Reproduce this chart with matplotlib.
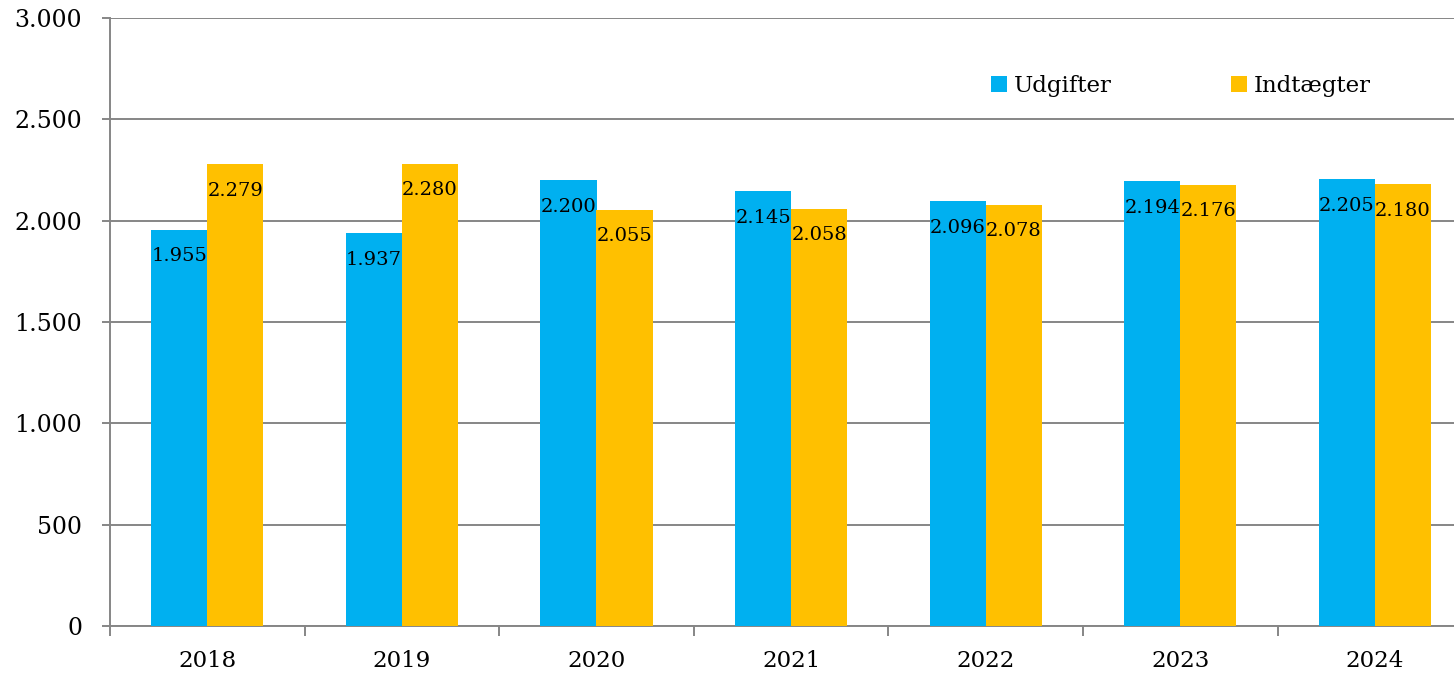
import matplotlib.pyplot as plt
import numpy as np
from matplotlib.ticker import FuncFormatter

years = ['2018', '2019', '2020', '2021', '2022', '2023', '2024']
udgifter = [1955, 1937, 2200, 2145, 2096, 2194, 2205]
indtaegter = [2279, 2280, 2055, 2058, 2078, 2176, 2180]
series_names = ['Udgifter', 'Indtægter']


def dk(v):
    return '{:,.0f}'.format(v).replace(',', '.')


plt.rcParams['font.family'] = ['DejaVu Serif']

fig = plt.figure(figsize=(14.54, 6.74), dpi=100)
ax = fig.add_axes([110 / 1454, 48 / 674, 1 - 110 / 1454, 608 / 674])

x = np.arange(len(years))
w = 0.288
gray = '#868686'

b1 = ax.bar(x - w / 2, udgifter, w, color='#00B0F0', label=series_names[0], zorder=3)
b2 = ax.bar(x + w / 2, indtaegter, w, color='#FFC000', label=series_names[1], zorder=3)

for bars, vals in ((b1, udgifter), (b2, indtaegter)):
    for rect, v in zip(bars, vals):
        ax.annotate(dk(v), (rect.get_x() + rect.get_width() / 2, v),
                    xytext=(0, -19), textcoords='offset points',
                    ha='center', va='center', fontsize=14, zorder=4)

ax.set_yticks(range(0, 3001, 500))
ax.yaxis.set_major_formatter(FuncFormatter(lambda v, p: dk(v)))
ax.grid(axis='y', color=gray, linewidth=1.4, zorder=0)

ax.set_xticks(x)
ax.set_xticklabels(years, fontsize=16.5)
ax.set_xticks(np.arange(-0.5, len(years), 1), minor=True)
ax.tick_params(axis='x', which='major', length=0, pad=17)
ax.tick_params(axis='x', which='minor', length=7, width=1.4, color=gray)
ax.tick_params(axis='y', length=6, width=1.4, color=gray, labelsize=17, pad=14)

# limits last, set_xticks would widen them
ax.set_ylim(0, 3000)
ax.set_xlim(-0.5, -0.5 + 1344 / 194.6)

for s in ('top', 'right'):
    ax.spines[s].set_visible(False)
for s in ('left', 'bottom'):
    ax.spines[s].set_color(gray)
    ax.spines[s].set_linewidth(1.4)

ax.legend(loc='upper left', bbox_to_anchor=(0.64, 0.94), ncol=2, frameon=False,
          fontsize=16.5, handlelength=0.7, handleheight=0.7, handletextpad=0.3,
          columnspacing=5.2)

fig.savefig('out.png', dpi=100)
